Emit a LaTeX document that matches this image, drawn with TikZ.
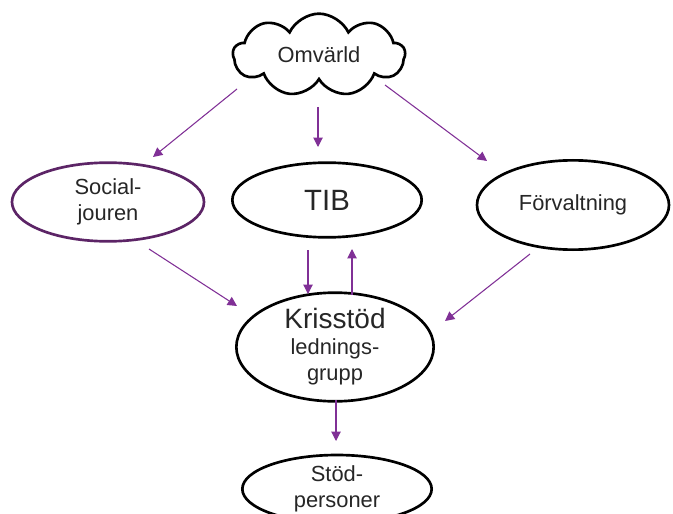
\documentclass[tikz,border=0pt]{standalone}
\usepackage{fontspec}
\setmainfont{Liberation Sans}
\usetikzlibrary{shapes.geometric,shapes.symbols,arrows.meta}
\definecolor{lila}{RGB}{128,48,150}
\definecolor{plommon}{RGB}{92,36,102}
\tikzset{
  org/.style={draw, ellipse, line width=2pt, inner sep=0pt, align=center,
    text=black!85, font=\fontsize{16.4}{19.5}\selectfont},
  flode/.style={draw=lila, line width=0.8pt, -{Triangle[width=7pt,length=7pt]}}
}
\begin{document}
\begin{tikzpicture}[x=0.75pt,y=-0.75pt]
\useasboundingbox (0,0) rectangle (673,513);

\node[org, cloud, cloud puffs=9, cloud puff arc=130, aspect=2.2, minimum width=129pt, minimum height=62pt] (omv) at (319,55) {Omvärld};
\node[org, draw=plommon, minimum width=144pt, minimum height=59pt] (soc) at (108,202) {Social-\\jouren};
\node[org, minimum width=142pt, minimum height=56pt, font=\fontsize{22}{26}\selectfont] (tib) at (327,200) {TIB};
\node[org, minimum width=144pt, minimum height=67pt] (frv) at (573,205) {Förvaltning};
\node[org, minimum width=148pt, minimum height=67pt] (kris) at (335,347) {{\fontsize{21}{24}\selectfont Krisstöd}\\lednings-\\grupp};
\node[org, minimum width=142pt, minimum height=51pt] (stod) at (337,489) {Stöd-\\personer};

\draw[flode] ([shift={(-82,34)}]omv.center) -- ([shift={(45,-45)}]soc.center);
\draw[flode] ([shift={(-1,52)}]omv.center) -- ([shift={(-9,-53)}]tib.center);
\draw[flode] ([shift={(66,30)}]omv.center) -- ([shift={(-86,-44)}]frv.center);
\draw[flode] ([shift={(41,47)}]soc.center) -- ([shift={(-98,-41)}]kris.center);
\draw[flode] ([shift={(-19,50)}]tib.center) -- ([shift={(-27,-53)}]kris.center);
\draw[flode] ([shift={(17,-52)}]kris.center) -- ([shift={(25,49)}]tib.center);
\draw[flode] ([shift={(-43,49)}]frv.center) -- ([shift={(110,-26)}]kris.center);
\draw[flode] ([shift={(1,53)}]kris.center) -- ([shift={(-1,-48)}]stod.center);
\end{tikzpicture}
\end{document}
